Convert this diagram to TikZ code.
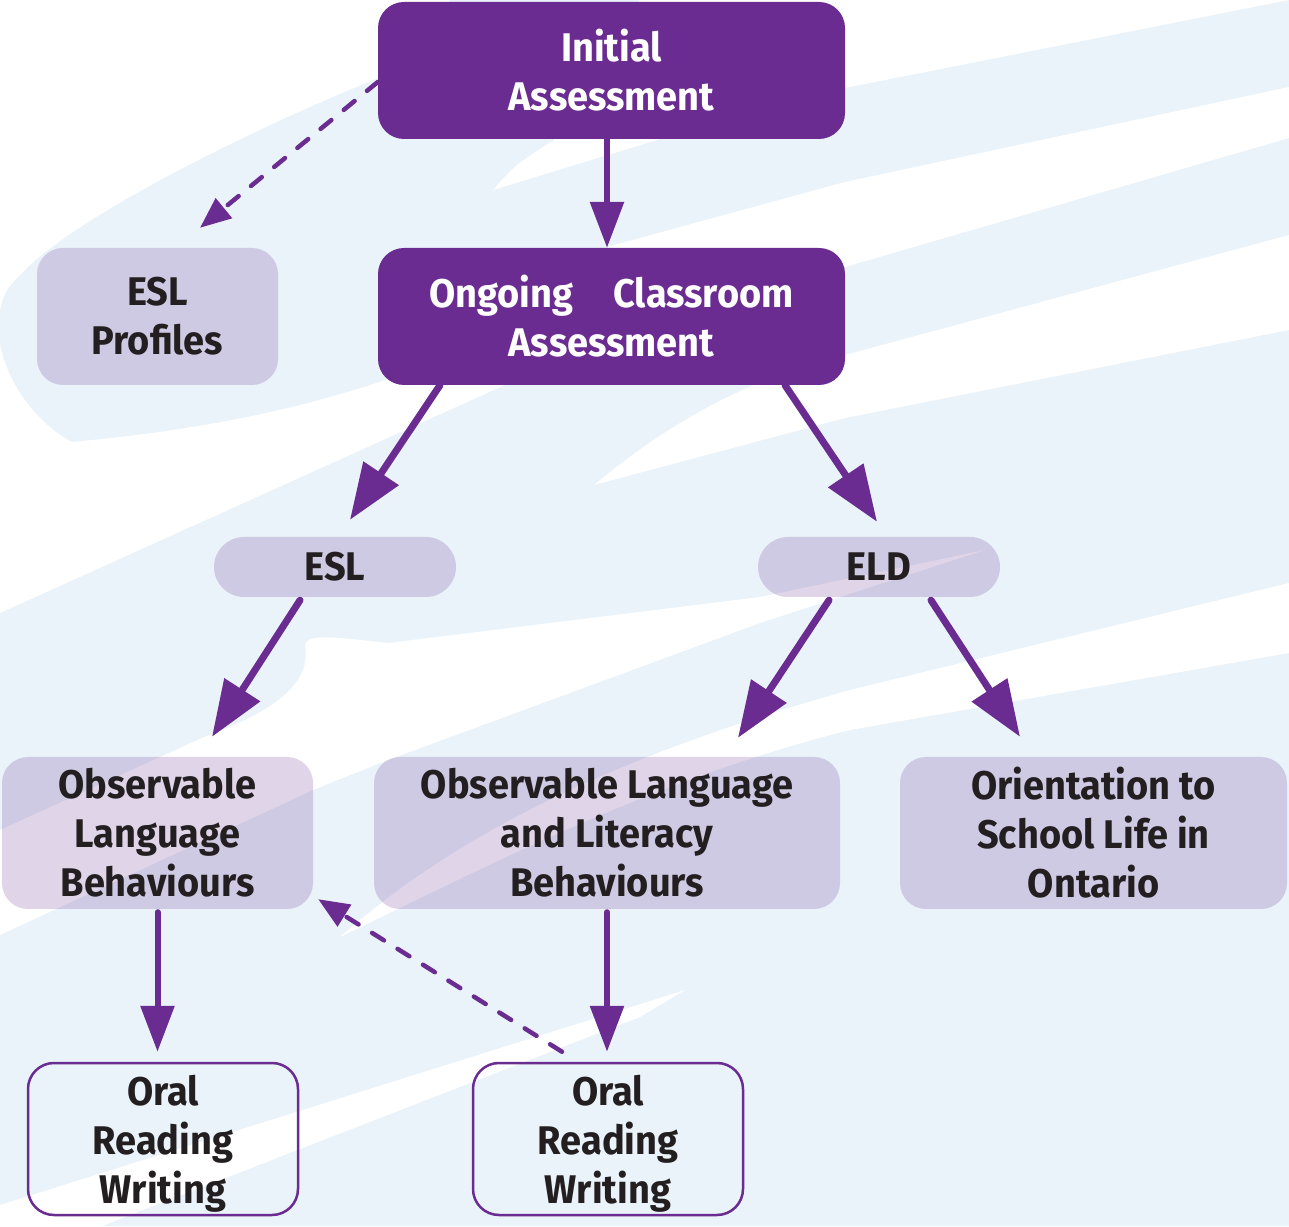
\documentclass[tikz,border=0pt]{standalone}
\usepackage{fontspec}
\setmainfont{Fira Sans}[FakeStretch=0.95]
\usetikzlibrary{arrows.meta}

\definecolor{boxPurple}{RGB}{106,44,145}
\definecolor{tintPurple}{RGB}{92,27,133}
\definecolor{paleBlue}{RGB}{234,243,250}
\definecolor{inkColor}{RGB}{35,31,32}

\tikzset{
  boxtext/.style={align=center,inner sep=0pt,font=\fontsize{40}{49}\selectfont\bfseries},
  mainbox/.style={boxtext,rounded corners=26pt,fill=boxPurple,text=white,
    minimum width=467pt,minimum height=137pt},
  softbox/.style={boxtext,rounded corners=26pt,fill=tintPurple,fill opacity=0.19,
    text opacity=1,text=inkColor},
  pillbox/.style={softbox,rounded corners=30pt,minimum width=242pt,minimum height=60pt},
  skillbox/.style={boxtext,rounded corners=26pt,draw=boxPurple,line width=2.5pt,
    text=inkColor,text depth=0pt,minimum width=270pt,minimum height=152pt},
  link/.style={draw=boxPurple,line width=6pt,line cap=round,
    -{Triangle[width=33pt,length=46pt]}},
  slantlink/.style={draw=boxPurple,line width=7pt,line cap=round,
    -{Triangle[width=41pt,length=56pt]}},
  dashlink/.style={draw=boxPurple,line width=4.5pt,line cap=round,
    dash pattern=on 14pt off 16pt,-{Triangle[width=25pt,length=31pt]}}
}

\begin{document}
\begin{tikzpicture}[x=1pt,y=1pt]
\path[use as bounding box,fill=paleBlue] (0,0) rectangle (1289,1226);

\path[fill=white] (0,1226) -- (450,1226) -- (378,1148) .. controls (250,1096) and (90,1016) ..
	(30,961) .. controls (5,936) .. (0,916) -- cycle;

\path[fill=white] (0,881) .. controls (10,836) and (40,801) .. (72,784) .. controls (200,796) and (300,816) ..
	(400,851) -- (600,936) -- (516,846) -- (0,613) -- cycle;

\path[fill=white] (493,1036) .. controls (515,1061) .. (554,1086) -- (640,1226) -- (1289,1226) --
	(845,1138) -- (657,1086) -- cycle;

\path[fill=white] (607,979) -- (845,1044) -- (1289,1139) -- (1289,1088) -- (845,959) -- (700,926) -- cycle;

\path[fill=white] (594,741) .. controls (660,796) and (740,846) .. (845,871) -- (1289,991) --
	(1289,896) -- (845,808) -- cycle;

\path[fill=white] (985,676) -- (760,629) -- (388,583) .. controls (340,588) and (305,594) ..
	(305,580) .. controls (310,550) and (290,520) .. (204,489) -- (0,396) -- (0,291) --
	(313,436) -- (388,466) -- (760,603) -- cycle;

\path[fill=white] (340,289) .. controls (450,386) and (600,466) .. (850,536) -- (1289,643) --
	(1289,573) -- (850,496) .. controls (650,446) and (480,356) .. (340,289) -- cycle;

\path[fill=white] (0,21) -- (685,236) -- (640,209) -- (102,0) -- (0,0) -- cycle;

\node[mainbox] (init) at (611.5,1155.5) {Initial\\Assessment};
\node[mainbox] (ongoing) at (611.5,909.5) {Ongoing\quad Classroom\\Assessment};
\node[softbox,minimum width=241pt,minimum height=137pt] (profiles) at (157.5,909.5) {ESL\\Profiles};

\node[pillbox] (esl) at (335,659) {ESL};
\node[pillbox] (eld) at (879,659) {ELD};

\node[softbox,minimum width=311pt,minimum height=152pt] (olb) at (157.5,393) {Observable\\Language\\Behaviours};
\node[softbox,minimum width=466pt,minimum height=152pt] (ollb) at (607,393) {Observable Language\\and Literacy\\Behaviours};
\node[softbox,minimum width=387pt,minimum height=152pt] (orient) at (1093.5,393) {Orientation to\\School Life in\\Ontario};

\node[skillbox] (oral1) at (163,87) {Oral\\Reading\\Writing};
\node[skillbox] (oral2) at (608,87) {Oral\\Reading\\Writing};

\draw[link] ([xshift=-4.5pt]init.south) -- ([xshift=-4.5pt]ongoing.north);
\draw[dashlink] ([yshift=-11.5pt]init.west) -- ([xshift=42.5pt,yshift=20pt]profiles.north);

\draw[slantlink] ([xshift=-171.5pt]ongoing.south) -- ([xshift=15pt,yshift=17pt]esl.north);
\draw[slantlink] ([xshift=173.5pt]ongoing.south) -- ([xshift=-2pt,yshift=15pt]eld.north);

\draw[slantlink] ([xshift=-35pt,yshift=-3pt]esl.south) -- ([xshift=54.5pt,yshift=20pt]olb.north);
\draw[slantlink] ([xshift=-50pt,yshift=-3pt]eld.south) -- ([xshift=131pt,yshift=19pt]ollb.north);
\draw[slantlink] ([xshift=52pt,yshift=-3pt]eld.south) -- ([xshift=-73.5pt,yshift=20pt]orient.north);

\draw[link] ([yshift=-3pt]olb.south) -- ([xshift=-5.5pt,yshift=10pt]oral1.north);
\draw[link] ([yshift=-3pt]ollb.south) -- ([xshift=-1pt,yshift=10pt]oral2.north);
\draw[dashlink] ([xshift=-46pt,yshift=10pt]oral2.north) -- ([xshift=5pt,yshift=10pt]olb.south east);
\end{tikzpicture}
\end{document}
